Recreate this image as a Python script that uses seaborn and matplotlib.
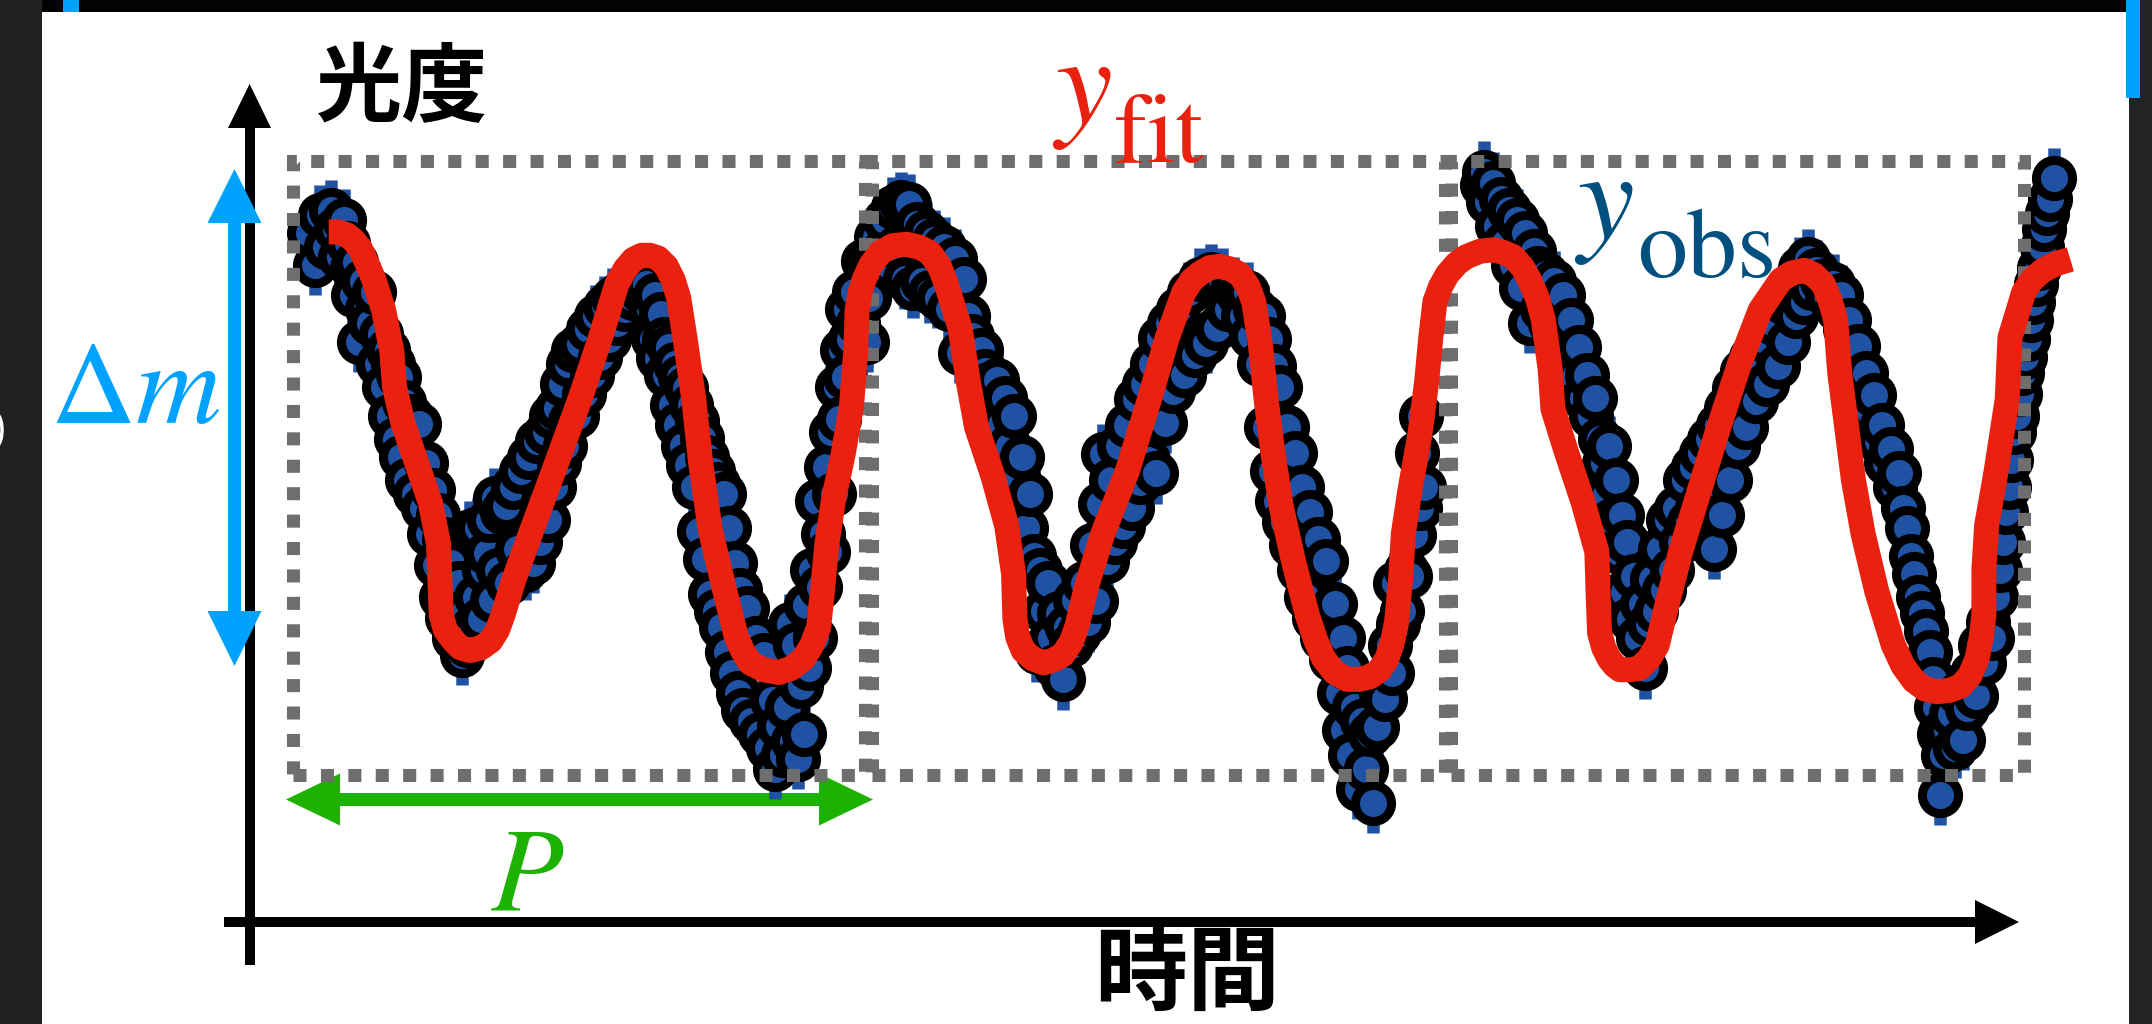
import matplotlib
matplotlib.use("Agg")
import matplotlib.pyplot as plt
import pandas as pd
import seaborn as sns
from matplotlib.patches import Rectangle, Polygon, Arc

# ---------------------------------------------------------------
# Light-curve data (time, brightness) in arbitrary plot units.
# Observed samples, one list per pulsation cycle.
# ---------------------------------------------------------------
cycle1_obs = [
    (12, 395), (16, 372), (20, 408), (24, 385), (28, 412), (31, 398), (34, 378), (37, 405), (40, 388), (43, 370),
    (44, 350), (46, 374), (48, 316), (51, 360), (54, 340), (56, 330), (59, 352), (62, 300), (64, 322), (66, 283),
    (69, 310), (71, 262), (73, 300), (75, 245), (77, 290), (79, 232), (81, 272), (83, 215), (86, 262), (89, 205),
    (92, 256), (95, 195), (97, 228), (99, 176), (102, 208), (104, 153), (106, 190), (108, 130), (110, 172), (112, 115),
    (115, 155), (117, 100), (119, 100), (121, 140), (123, 88), (125, 120), (127, 95), (129, 178), (131, 108), (133, 130),
    (135, 180), (137, 114), (139, 150), (141, 162), (143, 186), (145, 128), (147, 202), (149, 150), (152, 192), (155, 196),
    (157, 140), (160, 210), (163, 165), (166, 222), (169, 150), (172, 232), (175, 155), (178, 244), (180, 170),
    (182, 200), (184, 250), (186, 186), (188, 262), (190, 210), (192, 268), (194, 228), (196, 285), (198, 240), (200, 300),
    (202, 258), (204, 310), (207, 262), (209, 314), (212, 278), (215, 325), (218, 292), (221, 335), (224, 305), (227, 342),
    (230, 318), (233, 348), (236, 330), (239, 352), (242, 340), (245, 356), (248, 348), (251, 360), (254, 352), (257, 358),
    (260, 340), (262, 318), (264, 350), (266, 304), (268, 336),
    (270, 318), (272, 292), (274, 312), (276, 270), (278, 300), (280, 255), (282, 290), (284, 240), (286, 282), (288, 226),
    (290, 270), (292, 210), (294, 258), (296, 178), (298, 246), (300, 158), (302, 232), (304, 132), (306, 222), (308, 120),
    (310, 212), (312, 108), (314, 205), (316, 90), (318, 180), (320, 75), (322, 155), (324, 60), (326, 135), (328, 48),
    (331, 122), (334, 40), (337, 100), (340, 30), (343, 88), (346, 20), (349, 55), (351, 5), (354, 36), (357, 15),
    (360, 50), (362, 110), (364, 25), (366, 95), (368, 12), (370, 65), (372, 30), (374, 124), (376, 78), (378, 150),
    (380, 100), (382, 200), (384, 137), (386, 176), (388, 225), (390, 163), (392, 250), (394, 205), (396, 283), (398, 260),
    (400, 310), (402, 290), (404, 340), (406, 318), (409, 352), (412, 330), (415, 375), (418, 316), (420, 348),
]

cycle2_obs = [
    (422, 375), (425, 392), (428, 380), (431, 405), (434, 372), (437, 414), (440, 385), (443, 418), (446, 362), (449, 416),
    (452, 355), (455, 402), (458, 360), (461, 396), (464, 352), (467, 390), (470, 348), (474, 385), (478, 340), (482, 376),
    (486, 308), (489, 362), (492, 335), (495, 320), (498, 303), (501, 310),
    (504, 295), (507, 285), (510, 270), (513, 288), (516, 255), (519, 275), (522, 240), (525, 262), (528, 218), (531, 232),
    (534, 180), (537, 205), (540, 160), (542, 90), (544, 150), (547, 120), (550, 140), (552, 100), (555, 80), (558, 118),
    (561, 70), (564, 108), (567, 95),
    (570, 128), (573, 104), (576, 140), (579, 112), (582, 168), (585, 127), (588, 198), (590, 234), (593, 156), (596, 215),
    (599, 170), (602, 240), (605, 182), (608, 255), (611, 195), (614, 274), (617, 214), (620, 285), (623, 230), (626, 300),
    (629, 220), (632, 319), (635, 257), (638, 330), (641, 280), (645, 340), (649, 292), (653, 352), (657, 306), (661, 362),
    (665, 315), (669, 365), (673, 326), (677, 362), (681, 340), (685, 356),
    (689, 350), (692, 335), (695, 352), (698, 320), (701, 340), (704, 300), (707, 335), (709, 254), (711, 318), (713, 222),
    (715, 298), (717, 200), (719, 283), (722, 185), (724, 254), (727, 168), (730, 235), (733, 150), (735, 210), (738, 130),
    (741, 192), (744, 115), (747, 172), (750, 100), (753, 156), (756, 85), (759, 125), (762, 60), (765, 100), (766, 33),
    (768, 78), (770, 15), (773, 50), (776, -10), (779, 40), (782, 5), (785, 30), (787, -20), (790, 35), (793, 60),
    (796, 56), (799, 95), (801, 75), (803, 140), (805, 110), (808, 120), (811, 150), (814, 145), (817, 175), (819, 235),
    (821, 195), (822, 262), (824, 210),
]

cycle3_obs = [
    (866, 430), (868, 440), (871, 418), (874, 432), (877, 400), (880, 420), (883, 388), (886, 412), (889, 372), (892, 405),
    (895, 355), (898, 395), (901, 330), (904, 382),
    (907, 370), (910, 340), (913, 365), (916, 330), (919, 360), (922, 320), (925, 350), (928, 305), (931, 332), (934, 290),
    (937, 312), (940, 275), (943, 292), (946, 262), (949, 275), (952, 245), (955, 228), (957, 205), (959, 240), (961, 186),
    (964, 215), (966, 163), (968, 190), (970, 134), (972, 170), (974, 114), (977, 145), (980, 100), (983, 125), (985, 78),
    (988, 110),
    (990, 143), (993, 120), (996, 165), (999, 135), (1002, 186), (1005, 150), (1008, 195), (1011, 170), (1014, 215), (1017, 185),
    (1020, 225), (1023, 195), (1026, 235), (1029, 205), (1032, 245), (1035, 165), (1038, 255), (1041, 190), (1044, 268), (1047, 215),
    (1050, 282), (1053, 240), (1056, 295), (1059, 254), (1062, 305), (1066, 273), (1070, 318), (1074, 285), (1078, 330), (1082, 298),
    (1086, 345), (1089, 316), (1092, 358), (1095, 335), (1098, 370), (1101, 345), (1104, 376), (1107, 355), (1110, 368), (1114, 360),
    (1118, 350),
    (1122, 358), (1125, 340), (1128, 350), (1131, 325), (1134, 332), (1137, 305), (1140, 313), (1143, 285), (1146, 293), (1149, 265),
    (1152, 277), (1155, 244), (1158, 255), (1161, 228), (1164, 238), (1167, 210), (1170, 220), (1173, 195), (1176, 180), (1179, 160),
    (1181, 147), (1184, 130), (1187, 118), (1190, 105), (1193, 90), (1195, 70), (1197, 50), (1199, 30), (1200, -14), (1202, 15),
    (1205, 33), (1208, 45), (1211, 20), (1214, 60), (1217, 26),
    (1220, 49), (1223, 75), (1226, 58), (1229, 95), (1232, 82), (1235, 112), (1238, 100), (1241, 130), (1244, 150), (1246, 170),
    (1248, 192), (1250, 210), (1252, 230), (1254, 250), (1256, 262), (1258, 278), (1260, 293), (1262, 305), (1264, 318), (1266, 332),
    (1268, 345), (1270, 358), (1272, 370), (1274, 385), (1276, 398), (1278, 410), (1280, 420), (1283, 435),
]

obs_err = 22  # photometric uncertainty of each sample

# Model light curve fitted to the observations
fit_curve = [
    (26, 396), (33, 396), (39, 394), (44, 390), (49, 384), (54, 373), (59, 361), (66, 339), (72, 309), (74, 283),
    (80, 257), (90, 228), (100, 199), (106, 169), (107, 143), (108, 117), (111, 106), (117, 98), (122, 93), (129, 91),
    (137, 93), (144, 98), (149, 106), (153, 117), (161, 143), (173, 176), (190, 222), (209, 274), (224, 319), (236, 358),
    (242, 369), (248, 376), (254, 379), (260, 379), (266, 377), (272, 371), (277, 361), (281, 348), (286, 316), (292, 274),
    (297, 228), (304, 179), (314, 137), (323, 101), (328, 90), (333, 82), (343, 77), (354, 75), (363, 78), (372, 85),
    (378, 95), (383, 108), (386, 137), (389, 169), (394, 202), (401, 235), (407, 270), (410, 309), (411, 339), (413, 351),
    (416, 361), (421, 372), (428, 381), (437, 386), (447, 387), (456, 385), (464, 381), (471, 371), (476, 358), (486, 326),
    (492, 287), (498, 254), (510, 218), (520, 182), (525, 147), (526, 114), (528, 101), (532, 91), (539, 85), (547, 82),
    (554, 84), (561, 88), (567, 97), (571, 108), (578, 137), (590, 176), (608, 222), (624, 274), (637, 319), (649, 352),
    (655, 361), (661, 366), (668, 370), (675, 371), (683, 369), (690, 365), (696, 356), (700, 345), (705, 313), (709, 274),
    (714, 235), (720, 196), (729, 156), (739, 117), (745, 99), (751, 85), (759, 75), (768, 70), (777, 70), (785, 72),
    (792, 77), (797, 85), (801, 97), (804, 111), (807, 143), (809, 176), (814, 209), (821, 248), (826, 287), (829, 319),
    (832, 345), (836, 356), (841, 365), (848, 373), (855, 378), (865, 382), (875, 383), (882, 381), (889, 378), (896, 370),
    (901, 361), (907, 347), (911, 332), (916, 296), (918, 267), (928, 235), (940, 199), (950, 163), (951, 130), (952, 104),
    (955, 93), (959, 85), (963, 80), (967, 77), (974, 77), (981, 78), (988, 85), (994, 95), (1001, 124), (1011, 163),
    (1023, 202), (1037, 248), (1054, 300), (1069, 339), (1084, 361), (1092, 366), (1101, 368), (1108, 365), (1115, 358),
    (1120, 346), (1124, 332), (1127, 293), (1132, 254), (1137, 215), (1144, 176), (1154, 134), (1166, 95), (1173, 80),
    (1181, 69), (1189, 63), (1198, 61), (1207, 62), (1215, 65), (1222, 73), (1227, 85), (1230, 100), (1232, 117),
    (1232, 150), (1234, 182), (1241, 222), (1249, 274), (1251, 319), (1261, 352), (1267, 361), (1275, 368), (1285, 373),
    (1295, 376),
]

period = 422          # one pulsation period in time units
n_cycles = 3

# ---------------------------------------------------------------
OBS_FILL = "#2052a3"
FIT_RED = "#ea210f"
DM_BLUE = "#00a2ff"
P_GREEN = "#1db100"
OBS_TEXT = "#00507f"
BOX_GREY = "#6e6e6e"

sns.set_theme(style="white")
plt.rcParams["font.family"] = ["Noto Sans CJK JP", "DejaVu Sans"]
plt.rcParams["mathtext.fontset"] = "stix"

W, H = 2152, 1024
fig = plt.figure(figsize=(W / 100, H / 100), dpi=100, facecolor="white")

# pixel-space layer for the diagram furniture (arrows, labels, frame)
deco = fig.add_axes([0, 0, 1, 1])
deco.set_xlim(0, W)
deco.set_ylim(H, 0)
deco.axis("off")

# data layer: time on x, brightness on y
ax = fig.add_axes([0, 0, 1, 1])
ax.patch.set_alpha(0)
scale = W / 1568.0

obs = pd.DataFrame(cycle1_obs + cycle2_obs + cycle3_obs, columns=["time", "flux"])
fit = pd.DataFrame(fit_curve, columns=["time", "flux"])

ax.errorbar(obs["time"], obs["flux"], yerr=obs_err, fmt="none",
            ecolor=OBS_FILL, elinewidth=9, capsize=0, zorder=2)
sns.scatterplot(data=obs, x="time", y="flux", ax=ax, s=26 ** 2, color=OBS_FILL,
                edgecolor="black", linewidth=6.5, legend=False, zorder=3)

# one dotted frame per period
for i in range(n_cycles):
    ax.add_patch(Rectangle((i * period, 0), period - 5, 448, fill=False,
                           edgecolor=BOX_GREY, linewidth=9.4,
                           linestyle=(0, (1, 1.1)), zorder=4))

sns.lineplot(data=fit, x="time", y="flux", ax=ax, color=FIT_RED, linewidth=18,
             sort=False, estimator=None, legend=False, zorder=5,
             solid_capstyle="butt", solid_joinstyle="round")
ax.set_xlim(-213.5, W / scale - 213.5)
ax.set_ylim(565 - H / scale, 565)
ax.axis("off")

# ---- axes arrows -------------------------------------------------
def box(x, y, w, h, color, z=1):
    deco.add_patch(Rectangle((x, y), w, h, facecolor=color, edgecolor="none", zorder=z))

def tri(pts, color, z=1):
    deco.add_patch(Polygon(pts, closed=True, facecolor=color, edgecolor="none", zorder=z))

# brightness axis
box(244.6, 126, 10, 965 - 126, "black")
tri([(228, 128), (271, 128), (249.6, 84)], "black")
# time axis
box(224, 917, 1977 - 224, 10, "black")
tri([(1975, 900), (1975, 944), (2019, 922)], "black")

# amplitude arrow
box(228, 221, 13, 613 - 221, DM_BLUE)
tri([(207.5, 223), (261.5, 223), (234.5, 169)], DM_BLUE)
tri([(207.5, 611), (261.5, 611), (234.5, 666)], DM_BLUE)

# period arrow
box(338, 793, 821 - 338, 13, P_GREEN)
tri([(340, 773.5), (340, 825.5), (286, 799.5)], P_GREEN)
tri([(819, 773.5), (819, 825.5), (873, 799.5)], P_GREEN)

# ---- labels -------------------------------------------------------
ax.text(402, 90, "光度", transform=deco.transData, fontsize=62, fontweight="bold",
        ha="center", va="center", color="black", zorder=10)
ax.text(1187, 975, "時間", transform=deco.transData, fontsize=67, fontweight="bold",
        ha="center", va="center", color="black", zorder=10)
ax.text(220, 423, r"$\Delta m$", transform=deco.transData, fontsize=85, color=DM_BLUE,
        ha="right", va="baseline", zorder=10)
ax.text(527, 911, r"$P$", transform=deco.transData, fontsize=86, color=P_GREEN,
        ha="center", va="baseline", zorder=10)

ax.text(1052, 124, r"$y$", transform=deco.transData, fontsize=92, color=FIT_RED,
        ha="left", va="baseline", zorder=10)
ax.text(1114, 162, "fit", transform=deco.transData, fontsize=72, color=FIT_RED,
        fontfamily="STIXGeneral", ha="left", va="baseline", zorder=10)
ax.text(1574, 239, r"$y$", transform=deco.transData, fontsize=92, color=OBS_TEXT,
        ha="left", va="baseline", zorder=10)
ax.text(1637, 277, "obs", transform=deco.transData, fontsize=72, color=OBS_TEXT,
        fontfamily="STIXGeneral", ha="left", va="baseline", zorder=10)

# ---- surrounding window frame --------------------------------------
box(0, 0, 42, H, "#212121", z=20)
box(42, 0, 2129 - 42, 12, "#030303", z=20)
box(63, 0, 16, 12, DM_BLUE, z=21)
box(2129, 0, W - 2129, H, "#232323", z=20)
box(2126, 0, 14, 98, DM_BLUE, z=21)
deco.add_patch(Arc((-5, 430), 14, 34, theta1=-80, theta2=80, color="white", lw=2.5, zorder=22))

fig.savefig("out.png", dpi=100, facecolor="white")
